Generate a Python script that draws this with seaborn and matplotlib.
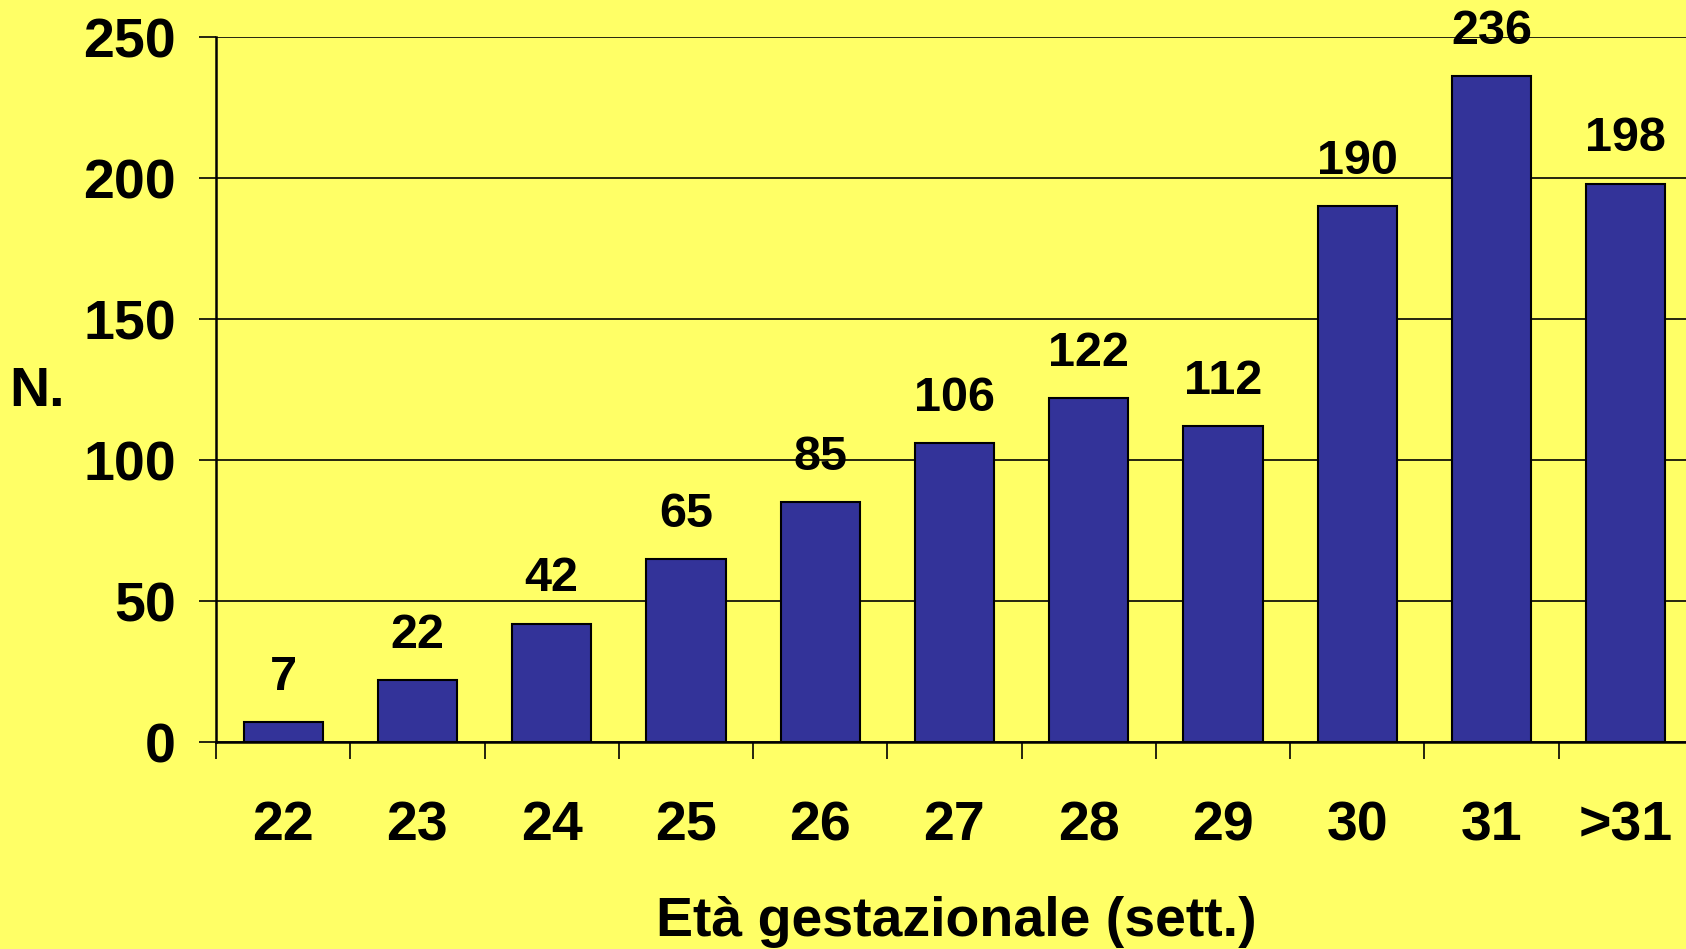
import matplotlib
matplotlib.use("Agg")
import matplotlib.pyplot as plt
import seaborn as sns
import numpy as np

settimane = ["22", "23", "24", "25", "26", "27", "28", "29", "30", "31", ">31"]
numero = [7, 22, 42, 65, 85, 106, 122, 112, 190, 236, 198]

sns.set_style("white")
plt.rcParams["font.family"] = ["Liberation Sans", "DejaVu Sans"]
plt.rcParams["font.weight"] = "bold"
plt.rcParams["text.color"] = "black"
plt.rcParams["xtick.color"] = "black"
plt.rcParams["ytick.color"] = "black"

fig = plt.figure(figsize=(16.86, 9.49), dpi=100, facecolor="#FFFF66")
ax = fig.add_axes([0.1281, 0.218, 0.876, 0.743])
ax.set_facecolor("#FFFF66")

sns.barplot(
    x=settimane,
    y=numero,
    color="#333399",
    saturation=1,
    width=0.59,
    edgecolor="black",
    linewidth=1.5,
    ax=ax
)

ax.set_ylim(0, 250)
ax.set_xlim(-0.5, 10.5)
ax.set_yticks([0, 50, 100, 150, 200, 250])
ax.set_yticklabels(["0", "50", "100", "150", "200", "250"],
                   fontsize=40, fontweight="bold")
ax.yaxis.grid(True, color="black", linewidth=1.2)
ax.set_axisbelow(True)

# category labels centered, ticks at slot boundaries
ax.set_xticks(np.arange(len(settimane)))
ax.set_xticklabels(settimane, fontsize=40, fontweight="bold")
ax.set_xticks(np.arange(len(settimane)) - 0.5, minor=True)
ax.tick_params(axis="x", which="major", length=0, pad=42)
ax.tick_params(axis="x", which="minor", length=12, width=1.2,
               direction="out", color="black", bottom=True)
ax.tick_params(axis="y", which="major", length=12, width=1.2,
               direction="out", color="black", left=True, pad=17)

for s in ["top", "right"]:
    ax.spines[s].set_visible(False)
for s in ["left", "bottom"]:
    ax.spines[s].set_color("black")
    ax.spines[s].set_linewidth(1.8)

ax.bar_label(ax.containers[0], labels=[str(v) for v in numero],
             padding=16, fontsize=35, fontweight="bold", color="black",
             clip_on=False)

ax.set_xlabel("")
ax.set_ylabel("")
fig.text(0.022, 0.587, "N.", fontsize=40, fontweight="bold",
         ha="center", va="center", color="black")
fig.text(0.567, 0.028, "Età gestazionale (sett.)", fontsize=40,
         fontweight="bold", ha="center", va="center", color="black")

fig.savefig("out.png", dpi=100, facecolor="#FFFF66")
